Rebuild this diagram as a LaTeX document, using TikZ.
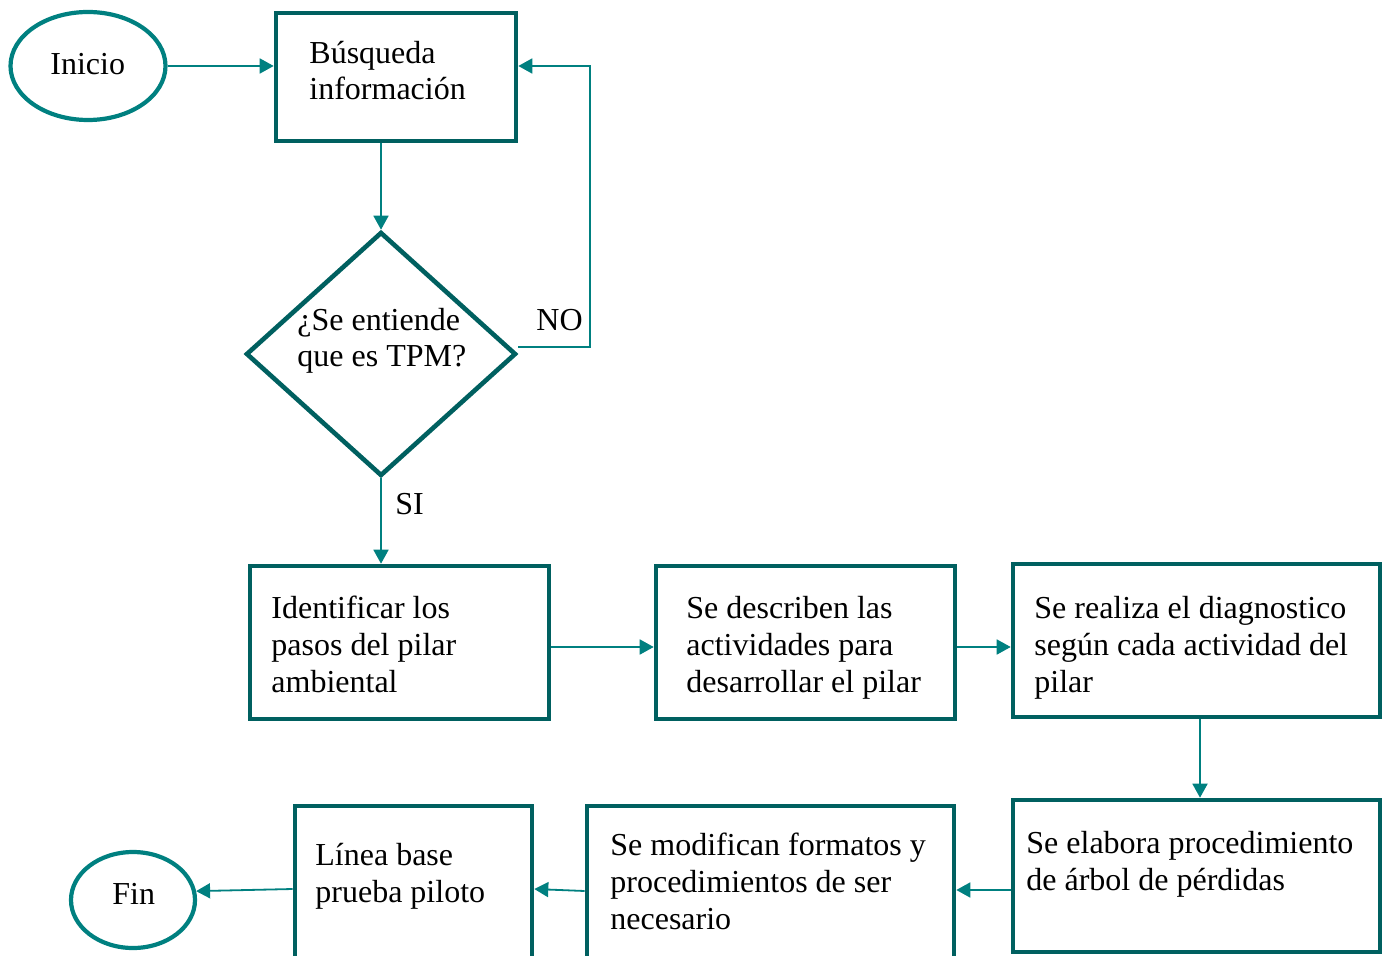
\documentclass[tikz,border=0pt]{standalone}
\usepackage{fontspec}
\setmainfont{Liberation Serif}
\usetikzlibrary{shapes.geometric,arrows.meta}
\definecolor{boxc}{RGB}{0,96,96}
\definecolor{ellc}{RGB}{0,128,128}
\definecolor{arrc}{RGB}{0,128,128}
\tikzset{
  x=0.5pt,y=-0.5pt,
  box/.style={draw=boxc,line width=2.3pt,rectangle,inner sep=0pt},
  term/.style={draw=ellc,line width=2.1pt,ellipse,inner sep=0pt},
  dec/.style={draw=boxc,line width=2.3pt,diamond,inner sep=0pt},
  arr/.style={draw=arrc,line width=0.9pt,-{Triangle[length=7pt,width=7.5pt]}},
  txt/.style={anchor=base west,align=left,inner sep=0pt,font=\fontsize{16}{18.3}\selectfont},
}
\begin{document}
\begin{tikzpicture}
\useasboundingbox (0,0) rectangle (1384,956);
\clip (0,0) rectangle (1384,956);
% shapes
\node[term,minimum width=77.5pt,minimum height=54pt] (ini) at (88,66) {};
\node[box,minimum width=120pt,minimum height=64pt] (bus) at (396,77) {};
\node[dec,minimum width=135pt,minimum height=122pt] (dia) at (381,354) {};
\node[box,minimum width=149.5pt,minimum height=76.5pt] (b1) at (399.5,642.5) {};
\node[box,minimum width=149.5pt,minimum height=76.5pt] (b2) at (805.5,642.5) {};
\node[box,minimum width=183.5pt,minimum height=76.5pt] (b3) at (1196.5,640.5) {};
\node[box,minimum width=183.5pt,minimum height=76pt] (b4) at (1196.5,876) {};
\node[box,minimum width=183.5pt,minimum height=97pt] (b5) at (770.5,903) {};
\node[box,minimum width=118.5pt,minimum height=97pt] (b6) at (413.5,903) {};
\node[term,minimum width=62pt,minimum height=48pt] (fin) at (133,900) {};
% texts (anchor = baseline of the last line)
\node[txt] (tini) at (50,75) {Inicio};
\node[txt] (tbus) at (309,100) {Búsqueda\\información};
\node[txt] (tdia) at (297,367) {¿Se entiende\\que es TPM?};
\node[txt] (tno) at (536,331) {NO};
\node[txt] (tsi) at (395,514) {SI};
\node[txt] (tb1) at (271,692) {Identificar los\\pasos del pilar\\ambiental};
\node[txt] (tb2) at (686,692) {Se describen las\\actividades para\\desarrollar el pilar};
\node[txt] (tb3) at (1034,692) {Se realiza el diagnostico\\según cada actividad del\\pilar};
\node[txt] (tb4) at (1026,890) {Se elabora procedimiento\\de árbol de pérdidas};
\node[txt] (tb5) at (610,929) {Se modifican formatos y\\procedimientos de ser\\necesario};
\node[txt] (tb6) at (315,902) {Línea base\\prueba piloto};
\node[txt] (tfin) at (112,904) {Fin};
% connectors
\coordinate (nocorner) at (590,347);
\draw[arr] (ini.east) -- (bus.west |- ini.east);
\draw[arr] (bus.south -| dia.north) -- (dia.north);
\draw[arr] (dia.east |- nocorner) -- (nocorner) |- (bus.east |- ini.east);
\draw[arr] (dia.south) -- (b1.north -| dia.south);
\draw[arr] (b1.east |- 0,647) -- (b2.west |- 0,647);
\draw[arr] (b2.east |- 0,647) -- (b3.west |- 0,647);
\draw[arr] (b3.south -| 1200,0) -- (b4.north -| 1200,0);
\draw[arr] (b4.west |- 0,890) -- (b5.east |- 0,890);
\draw[arr] (b5.west |- 0,891) -- (b6.east |- 0,889);
\draw[arr] (b6.west |- 0,889) -- (fin.8);
\end{tikzpicture}
\end{document}
